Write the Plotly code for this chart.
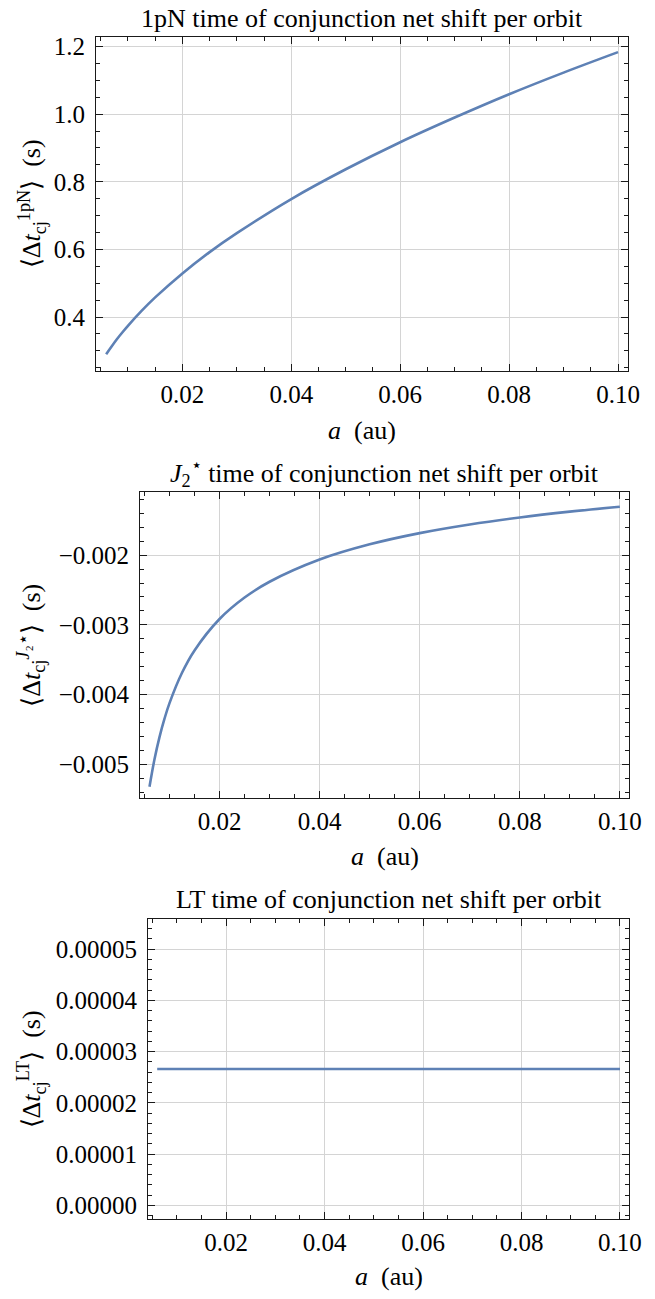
import plotly.graph_objects as go

# ---- data ----
a_vals = [0.006, 0.007, 0.008, 0.009, 0.010, 0.0125, 0.015, 0.020, 0.025, 0.030,
          0.040, 0.050, 0.060, 0.070, 0.080, 0.090, 0.100]
dt_1pN = [0.290, 0.313, 0.335, 0.355, 0.374, 0.418, 0.458, 0.529, 0.592, 0.648,
          0.749, 0.837, 0.917, 0.990, 1.059, 1.123, 1.1835]
dt_J2 = [-0.005324, -0.004929, -0.004611, -0.004347, -0.004124, -0.003688, -0.003367,
         -0.002916, -0.002608, -0.002381, -0.002062, -0.001844, -0.001683, -0.001559,
         -0.001458, -0.001375, -0.001304]
dt_LT = [0.0000266] * len(a_vals)

titles = ["1pN time of conjunction net shift per orbit",
          "<i>J</i><sub>2</sub><sup>⋆</sup> time of conjunction net shift per orbit",
          "LT time of conjunction net shift per orbit"]
ytitles = ["⟨Δ<i>t</i><sub>cj</sub><sup>1pN</sup>⟩\u00a0\u00a0(s)",
           "⟨Δ<i>t</i><sub>cj</sub><sup><i>J</i>₂⋆</sup>⟩\u00a0\u00a0(s)",
           "⟨Δ<i>t</i><sub>cj</sub><sup>LT</sup>⟩\u00a0\u00a0(s)"]
xtitle = "<i>a</i>\u00a0\u00a0(au)"

W, H = 655, 1299
FONT = "Liberation Serif, Times New Roman, serif"
FS = 25
LINE = "rgb(94,129,181)"
GRID = "#d4d4d4"

# panel frames in pixels: (left, right, top, bottom)
frames = [(97.7, 640.0, 33.3, 367.7),
          (142.7, 641.0, 490.0, 796.7),
          (150.7, 641.0, 917.7, 1219.0)]
yranges = [[0.2416, 1.2277], [-0.005489, -0.0011], [-0.0000027, 0.0000559]]
ydticks = [0.2, 0.001, 0.00001]
yminor = [0.05, 0.0002, 0.000002]
yfmt = [".1f", ".3f", ".5f"]
title_y = [15, 470, 898]
xtitle_y = [428, 855, 1276]
series = [dt_1pN, dt_J2, dt_LT]

fig = go.Figure()
annotations = []
for i in range(3):
    l, r, t, b = frames[i]
    sfx = "" if i == 0 else str(i + 1)
    fig.add_trace(go.Scatter(x=a_vals, y=series[i], mode="lines",
                             line=dict(color=LINE, width=2.6, shape="spline"),
                             xaxis="x" + sfx, yaxis="y" + sfx, showlegend=False))
    common = dict(showline=True, linecolor="#1a1a1a", linewidth=1, mirror="allticks",
                  ticks="inside", ticklen=7, tickwidth=1, tickcolor="#1a1a1a",
                  showgrid=True, gridcolor=GRID, gridwidth=1, zeroline=False,
                  tickfont=dict(family=FONT, size=FS, color="black"))
    fig.update_layout(**{
        "xaxis" + sfx: dict(domain=[l / W, r / W], anchor="y" + sfx,
                            range=[0.00412, 0.10188], dtick=0.02, tick0=0,
                            tickformat=".2f", ticklabelstandoff=1,
                            minor=dict(dtick=0.005, tick0=0, ticks="inside",
                                       ticklen=4, tickcolor="#1a1a1a", showgrid=False),
                            **common),
        "yaxis" + sfx: dict(domain=[1 - b / H, 1 - t / H], anchor="x" + sfx,
                            range=yranges[i], dtick=ydticks[i], tick0=0,
                            tickformat=yfmt[i], ticklabelstandoff=5,
                            minor=dict(dtick=yminor[i], tick0=0, ticks="inside",
                                       ticklen=4, tickcolor="#1a1a1a", showgrid=False),
                            **common),
    })
    cx = (l + r) / 2 / W
    annotations.append(dict(text=titles[i], x=cx, y=1 - title_y[i] / H,
                            xref="paper", yref="paper", xanchor="center", yanchor="middle",
                            showarrow=False, font=dict(family=FONT, size=FS + 1, color="black")))
    annotations.append(dict(text=xtitle, x=cx, y=1 - xtitle_y[i] / H,
                            xref="paper", yref="paper", xanchor="center", yanchor="middle",
                            showarrow=False, font=dict(family=FONT, size=FS + 1, color="black")))
    annotations.append(dict(text=ytitles[i], x=32 / W, y=1 - (t + b) / 2 / H,
                            xref="paper", yref="paper", xanchor="center", yanchor="middle",
                            textangle=-90, showarrow=False,
                            font=dict(family=FONT, size=FS + 1, color="black")))

fig.update_layout(width=W, height=H, margin=dict(l=0, r=0, t=0, b=0),
                  paper_bgcolor="white", plot_bgcolor="white",
                  annotations=annotations)
fig.write_html("out.html", config={"displayModeBar": False},
               post_script="document.body.style.margin='0';document.body.style.padding='0';")
